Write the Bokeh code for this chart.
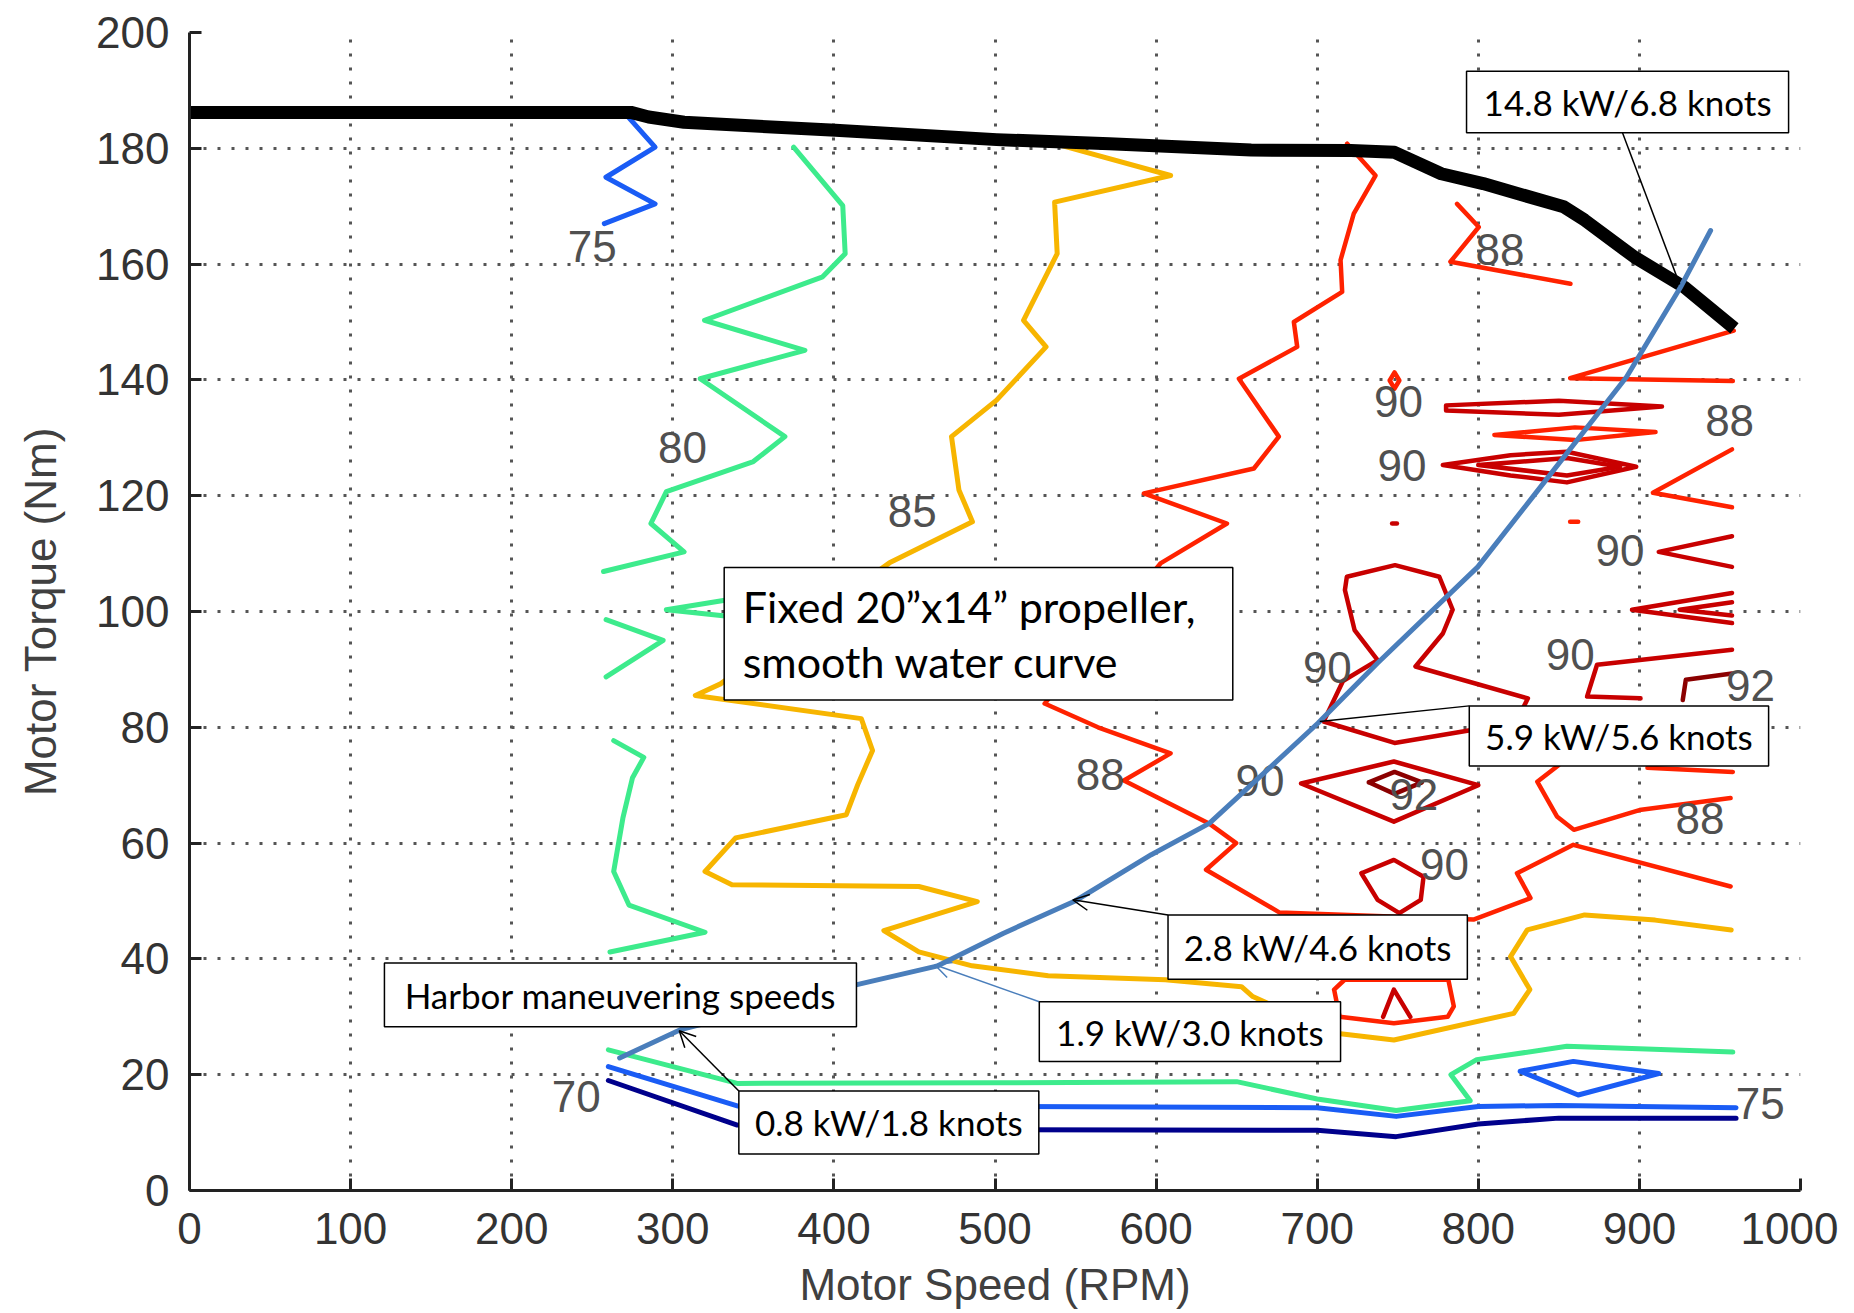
from bokeh.plotting import figure
from bokeh.models import Range1d, Label, Arrow, OpenHead, BoxAnnotation, FixedTicker
from bokeh.core.properties import value
from bokeh.embed import file_html
from bokeh.resources import INLINE

# ---------------- data ----------------
x_ticks = [0, 100, 200, 300, 400, 500, 600, 700, 800, 900, 1000]
y_ticks = [0, 20, 40, 60, 80, 100, 120, 140, 160, 180, 200]

# maximum torque envelope (black)
env_rpm = [0, 274, 285, 307, 401, 501, 571, 659, 721, 748, 777, 803, 853, 866, 897, 928, 959]
env_torque = [186.2, 186.2, 185.4, 184.5, 183.1, 181.5, 180.8, 179.7, 179.6, 179.3, 175.6, 173.9, 169.9, 167.6, 161.2, 156.0, 148.9]

# fixed propeller, smooth water curve (blue)
prop_rpm = [267, 305, 415, 464.5, 505, 549.7, 597, 633, 660, 700.4, 737.5, 799.7, 835.5, 892, 925.5, 944.2]
prop_torque = [22.9, 27.8, 35.6, 38.8, 44.4, 50.0, 58.0, 63.4, 70.3, 80.7, 91.1, 107.7, 120.4, 140.5, 156.0, 165.8]

# efficiency contour pieces (rpm, torque)
c70_a = [(260, 19), (340, 11.3), (500, 10.5), (700, 10.4), (749, 9.3), (800, 11.5), (850, 12.5), (960, 12.5)]

c75_a = [(272, 185.5), (289, 180.2), (258.5, 175), (289, 170.4), (257.5, 167)]
c75_b = [(260, 21.4), (340, 14.6), (500, 14.5), (700, 14.3), (749, 12.8), (800, 14.5), (850, 14.7), (960, 14.3)]
c75_c = [(826, 20.6), (859, 22.3), (912, 20.2), (862, 16.5), (826, 20.6)]

c80_a = [(375, 180.2), (405.5, 170.1), (407, 161.8), (393, 157.8), (319.7, 150.3), (382, 145.1), (317, 140.2),
         (369.6, 130.2), (350, 125.9), (296, 120.7), (286.4, 115.2), (307, 110.3), (257, 106.9)]
c80_b = [(258.6, 98.6), (294, 95), (258.6, 88.7)]
c80_c = [(340, 102.3), (296, 100.3), (340, 99)]
c80_d = [(263.3, 77.7), (282, 74.8), (275, 71.3), (269, 64.3), (263.3, 55.1), (272.8, 49.3), (320, 44.6), (261, 41.2)]
c80_e = [(260, 24.3), (340, 18.5), (500, 18.6), (650, 18.8), (700, 15.8), (749, 13.8), (795, 15.5), (783, 20),
         (799, 22.6), (855, 24.9), (958, 23.9)]

c85_a = [(541, 180.5), (609, 175.3), (537, 170.7), (538.6, 161.8), (517.7, 150.3), (531.7, 145.7), (501, 136.5),
         (473, 130.2), (477.6, 121), (486, 115.5), (434.5, 108.4), (329.6, 87.5), (314, 85.5), (417, 81.5),
         (424, 76), (414.8, 70.1), (407.7, 64.9), (339, 60.9), (320, 55.1), (336.7, 52.8), (452.7, 52.5),
         (489, 49.9), (431, 44.9), (452.7, 41.2), (485.8, 38.8), (533, 37.1), (605.7, 36.4), (653, 35.2),
         (660, 33.5), (710.5, 27.2), (747.6, 26), (822, 30.6), (832, 34.7), (820, 40.4), (830.4, 45),
         (866, 47.6), (909.8, 46.7), (957, 45)]

c88_a = [(718.6, 180.8), (736.2, 175.3), (722.7, 168.7), (714.5, 160.7), (715.5, 155.2), (685.5, 150),
         (687.6, 145.7), (651.4, 140.2), (676.2, 130.2), (660.7, 124.7), (592.4, 120.4), (644, 115.2),
         (602.7, 108.3), (530.8, 84.1), (563.9, 80), (609, 75.5), (580, 70.8), (632.8, 63.4), (649.7, 60),
         (631, 55.4), (676.7, 48), (797, 46.8), (832.4, 50.5), (824, 54.8), (859, 59.7), (956.6, 52.5)]
c88_b = [(786.8, 170.4), (800.3, 166.4), (782.7, 160.4), (857.2, 156.6)]
c88_c = [(958.6, 148.5), (857, 140.3), (958, 139.8)]
c88_d = [(810, 130.5), (860, 131.8), (910, 131), (860, 129.6), (810, 130.5)]
c88_e = [(957.5, 128), (908.4, 120.5), (957.5, 118)]
c88_f = [(850, 73.5), (836.6, 70.6), (848.8, 64.6), (859.3, 62.3), (900, 65.7), (956.6, 67.8)]
c88_g = [(905, 73), (958, 72.3)]
c88_h = [(710.5, 34.7), (717, 36.4), (781.4, 36.4), (784.8, 31.8), (781, 30), (747.6, 28.9), (713.9, 30), (710.5, 34.7)]
c88_i = [(745, 139.9), (748, 141.3), (751, 139.9), (748, 138.5), (745, 139.9)]
c88_j = [(857, 115.5), (862, 115.5)]

c90_a = [(780, 135.6), (850, 136.4), (914, 135.4), (850, 134), (780, 134.7), (780, 135.6)]
c90_b = [(778, 125.3), (820, 127), (855, 127.6), (898, 125), (855, 122.3), (820, 123.5), (778, 125.3)]
c90_c = [(800, 125.3), (855, 126.5), (888, 125), (855, 123.5), (800, 125.3)]
c90_d = [(957.5, 113), (912, 110.3), (957.5, 107.7)]
c90_e = [(957.5, 103.2), (895.4, 100.3), (957.5, 98)]
c90_f = [(957.5, 101.6), (925, 100.3), (957.5, 99.3)]
c90_g = [(957.5, 93.4), (873.7, 90.8), (867.5, 85.3), (900.7, 85)]
c90_h = [(704, 81), (716, 88), (737.5, 91.6), (723.2, 96.8), (717.2, 103.7), (718.4, 106), (748.3, 108),
         (775.8, 106), (784.1, 100.3), (778, 96.2), (761, 90.5), (830.8, 85), (820, 79), (795, 79.5),
         (748, 77.3), (704, 81)]
c90_i = [(690, 70.3), (747.6, 74.1), (800, 70), (747.6, 63.7), (690, 70.3)]
c90_j = [(727.4, 54.8), (747.6, 57.1), (766, 54.2), (764.3, 50.2), (751, 47.9), (737.5, 50.2), (727.4, 54.8)]
c90_k = [(740.9, 30), (747.6, 34.7), (757.8, 30)]
c90_l = [(746.5, 115.2), (749.5, 115.2)]

c92_a = [(957.5, 89.3), (928.8, 88.2), (926.9, 84.7)]
c92_b = [(732, 70.5), (748, 72.3), (765, 70.5), (748, 68.5), (732, 70.5)]

levels = [
    ("#00008C", 5, [c70_a]),
    ("#1A5CF5", 5, [c75_a, c75_b, c75_c]),
    ("#3DEB8C", 5, [c80_a, c80_b, c80_c, c80_d, c80_e]),
    ("#F7B500", 5, [c85_a]),
    ("#FF2200", 4.5, [c88_a, c88_b, c88_c, c88_d, c88_e, c88_f, c88_g, c88_h, c88_i, c88_j]),
    ("#C80000", 4.5, [c90_a, c90_b, c90_c, c90_d, c90_e, c90_f, c90_g, c90_h, c90_i, c90_j, c90_k, c90_l]),
    ("#8B0000", 4.5, [c92_a, c92_b]),
]

# contour labels
lab_x = [240, 250, 306, 448.6, 565.3, 813.5, 956, 937.6, 750.4, 752.6, 888, 706.3, 857, 664.5, 779, 760, 969, 975]
lab_y = [16.2, 163, 128.3, 117.3, 71.8, 162.6, 133, 64.3, 136.3, 125.3, 110.6, 90.3, 92.5, 70.8, 56.3, 68.4, 87.2, 15.1]
lab_t = ["70", "75", "80", "85", "88", "88", "88", "88", "90", "90", "90", "90", "90", "90", "90", "92", "92", "75"]

# annotation call-outs: (text, left, right, bottom, top)
callouts = [
    ("14.8 kW/6.8 knots", 792.7, 992.6, 182.7, 193.3),
    ("5.9 kW/5.6 knots", 794.4, 980.2, 73.3, 83.7),
    ("2.8 kW/4.6 knots", 607.4, 793.2, 36.5, 47.6),
    ("1.9 kW/3.0 knots", 527.5, 714.5, 22.3, 32.6),
    ("Harbor maneuvering speeds", 121.0, 414.0, 28.3, 39.3),
    ("0.8 kW/1.8 knots", 341.0, 527.2, 6.3, 17.2),
]
fixed_box = (331.9, 647.6, 84.7, 107.6)
fixed_lines = ["Fixed 20\u201dx14\u201d  propeller,", "smooth water curve"]
# leader lines: (x_start, y_start, x_end, y_end, colour, head)
leaders = [
    (889.5, 182.7, 925.0, 156.5, "black", False),
    (794.4, 83.7, 701.6, 81.0, "black", False),
    (607.4, 47.6, 548.3, 50.2, "black", True),
    (527.5, 32.6, 462.6, 39.0, "#4A7EBB", True),
    (341.0, 17.2, 304.0, 27.6, "black", True),
]

# ---------------- figure ----------------
p = figure(width=1838, height=1311, x_range=Range1d(0, 1000), y_range=Range1d(0, 200),
           output_backend="svg", toolbar_location=None,
           min_border_left=189, min_border_right=38, min_border_top=32, min_border_bottom=120)
p.outline_line_color = None
p.background_fill_color = "white"
p.border_fill_color = "white"

for g, t in ((p.xgrid, x_ticks), (p.ygrid, y_ticks)):
    g.ticker = FixedTicker(ticks=t)
    g.grid_line_color = "#555555"
    g.grid_line_width = 3
    g.grid_line_dash = "3 11"

p.xaxis.ticker = FixedTicker(ticks=x_ticks)
p.yaxis.ticker = FixedTicker(ticks=y_ticks)
for ax in (p.xaxis[0], p.yaxis[0]):
    ax.axis_line_width = 3
    ax.axis_line_color = "#222222"
    ax.major_tick_in = 12
    ax.major_tick_out = 0
    ax.major_tick_line_width = 3
    ax.major_tick_line_color = "#222222"
    ax.minor_tick_line_color = None
    ax.major_label_text_font = "Liberation Sans"
    ax.major_label_text_font_size = "44px"
    ax.major_label_text_color = "#333333"
    ax.axis_label_text_font = "Liberation Sans"
    ax.axis_label_text_font_size = "44px"
    ax.axis_label_text_font_style = "normal"
    ax.axis_label_text_color = "#404040"
p.xaxis.axis_label = "Motor Speed (RPM)"
p.yaxis.axis_label = "Motor Torque (Nm)"
p.xaxis.major_label_standoff = 22
p.xaxis.axis_label_standoff = 13
p.yaxis.major_label_standoff = 20
p.yaxis.axis_label_standoff = 28

for col, lw, pieces in levels:
    xs = [[pt[0] for pt in pc] for pc in pieces]
    ys = [[pt[1] for pt in pc] for pc in pieces]
    p.multi_line(xs=xs, ys=ys, line_color=col, line_width=lw, line_join="round", line_cap="round")

p.text(x=lab_x, y=lab_y, text=lab_t, text_font=value("Liberation Sans"), text_font_size="44px",
       text_color="#505050", text_align="center", text_baseline="middle")

p.line(env_rpm, env_torque, line_color="black", line_width=13, line_join="round")
p.line(prop_rpm, prop_torque, line_color="#4A7EBB", line_width=5, line_cap="round", line_join="round")

for xs_, ys_, xe, ye, col, head in leaders:
    end = OpenHead(size=16, line_width=1.5, line_color=col) if head else None
    p.add_layout(Arrow(end=end, x_start=xs_, y_start=ys_, x_end=xe, y_end=ye,
                       line_color=col, line_width=1.5))

for txt, l, r, b, t in callouts:
    p.add_layout(BoxAnnotation(left=l, right=r, bottom=b, top=t, fill_color="white", fill_alpha=1,
                               line_color="black", line_width=1.5, line_alpha=1))
fl, fr, fb, ft = fixed_box
p.add_layout(BoxAnnotation(left=fl, right=fr, bottom=fb, top=ft, fill_color="white", fill_alpha=1,
                           line_color="black", line_width=1.5, line_alpha=1))

for txt, l, r, b, t in callouts:
    p.add_layout(Label(x=(l + r) / 2, y=(b + t) / 2, text=txt, text_align="center", text_baseline="middle",
                       text_font="Lato", text_font_size="35px", text_color="black"))
p.add_layout(Label(x=fl + 11.5, y=100.8, text=fixed_lines[0], text_align="left", text_baseline="middle",
                   text_font="Lato", text_font_size="43px", text_color="black"))
p.add_layout(Label(x=fl + 11.5, y=91.3, text=fixed_lines[1], text_align="left", text_baseline="middle",
                   text_font="Lato", text_font_size="43px", text_color="black"))

open("out.html", "w").write(file_html(p, INLINE))
